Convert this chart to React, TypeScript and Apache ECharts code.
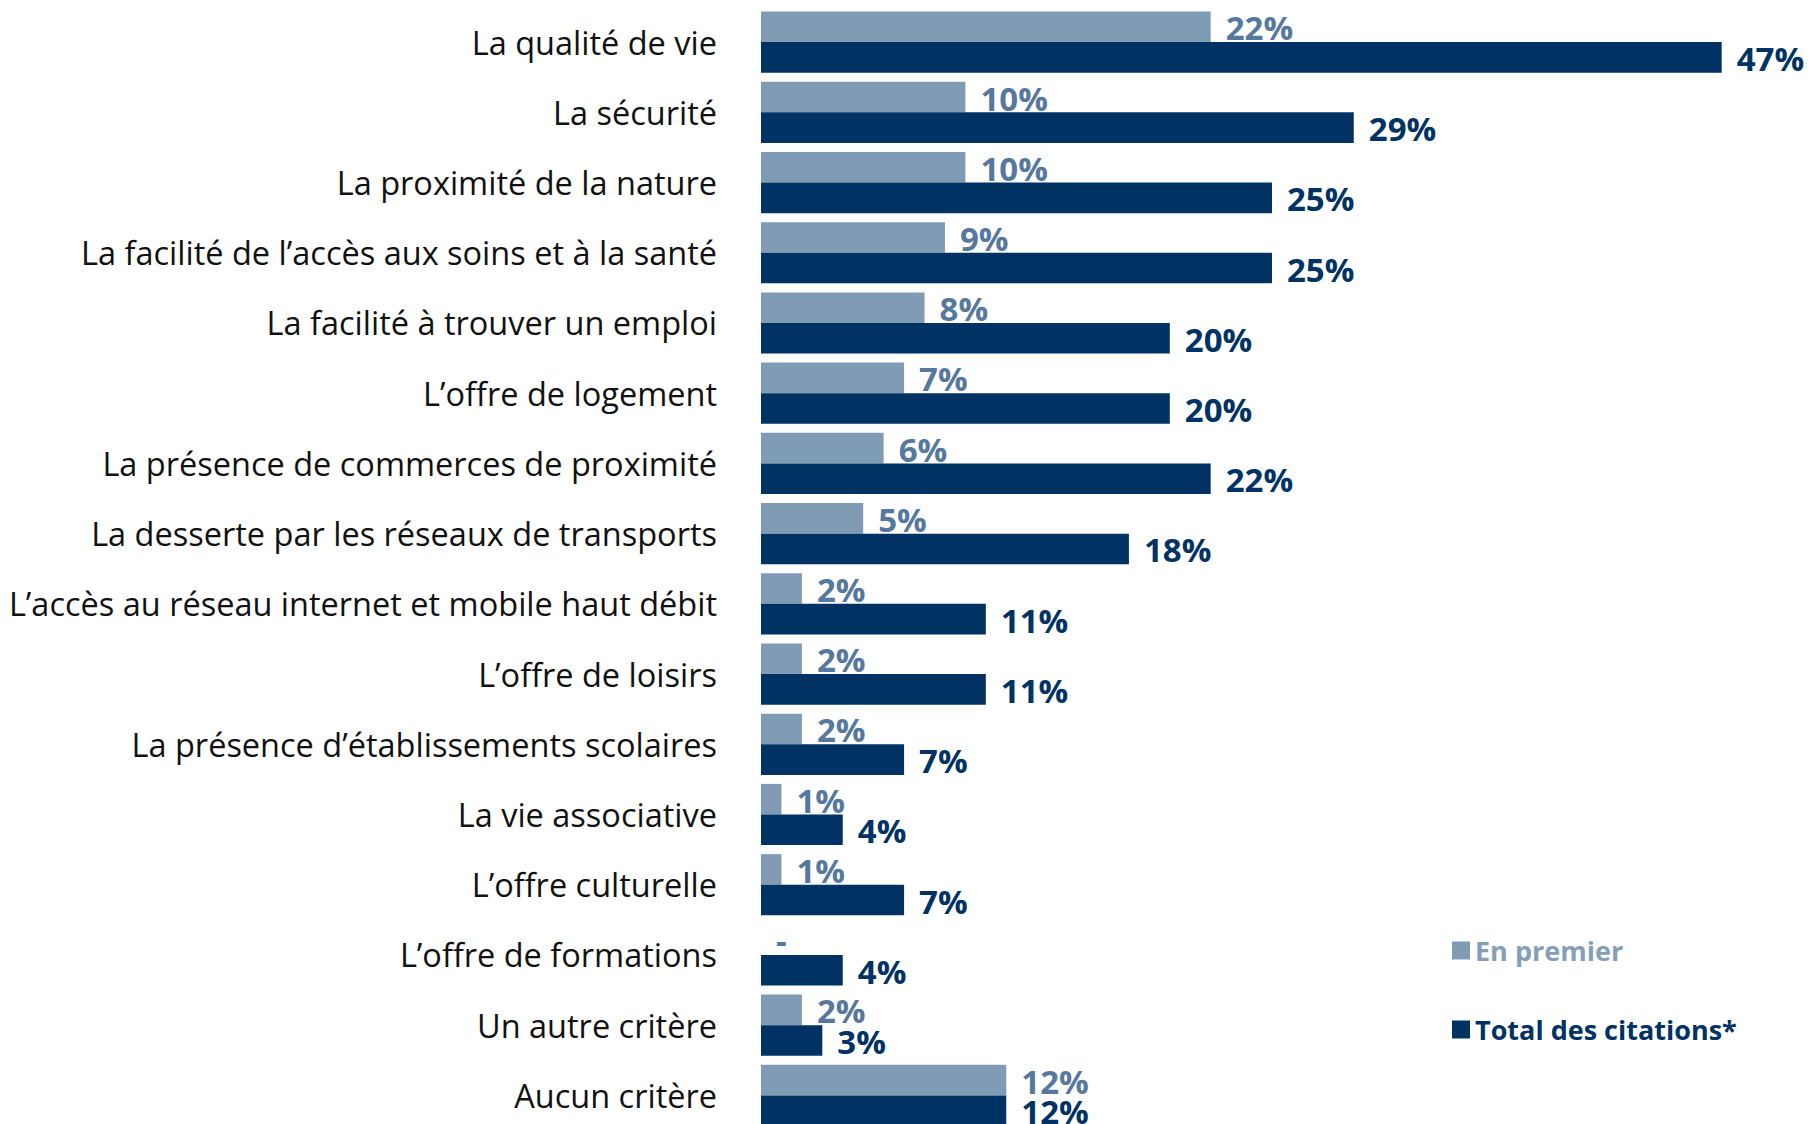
import React, { useEffect, useRef } from "react";
import * as echarts from "echarts";

const categories = [
  "La qualité de vie",
  "La sécurité",
  "La proximité de la nature",
  "La facilité de l’accès aux soins et à la santé",
  "La facilité à trouver un emploi",
  "L’offre de logement",
  "La présence de commerces de proximité",
  "La desserte par les réseaux de transports",
  "L’accès au réseau internet et mobile haut débit",
  "L’offre de loisirs",
  "La présence d’établissements scolaires",
  "La vie associative",
  "L’offre culturelle",
  "L’offre de formations",
  "Un autre critère",
  "Aucun critère",
];

const enPremier = [22, 10, 10, 9, 8, 7, 6, 5, 2, 2, 2, 1, 1, 0, 2, 12];
const totalCitations = [47, 29, 25, 25, 20, 20, 22, 18, 11, 11, 7, 4, 7, 4, 3, 12];

const seriesNames = ["En premier", "Total des citations*"];

const LIGHT = "#809bb4";
const LIGHT_TEXT = "#56789e";
const DARK = "#003263";
const FONT = "'Open Sans', 'Noto Sans', sans-serif";

export default function App() {
  const ref = useRef<HTMLDivElement>(null);

  useEffect(() => {
    if (!ref.current) return;
    const chart = echarts.init(ref.current, undefined, { renderer: "svg" });
    chart.setOption({
      animation: false,
      backgroundColor: "#ffffff",
      grid: { left: 761, right: 28, top: 7, bottom: 9.5, containLabel: false },
      xAxis: {
        type: "value",
        min: 0,
        max: 50,
        show: false,
      },
      yAxis: {
        type: "category",
        data: categories,
        inverse: true,
        axisLine: { show: false },
        axisTick: { show: false },
        splitLine: { show: false },
        axisLabel: {
          margin: 44,
          fontSize: 32.5,
          fontFamily: FONT,
          color: "#111111",
          padding: [0, 0, 5, 0],
        },
      },
      legend: [
        {
          data: [seriesNames[0]],
          left: 1447,
          top: 932,
          itemWidth: 18,
          itemHeight: 18,
          itemGap: 8,
          icon: "rect",
          textStyle: { color: "#869fb8", fontSize: 27, fontWeight: "bold", fontFamily: FONT },
        },
        {
          data: [seriesNames[1]],
          left: 1447,
          top: 1011,
          itemWidth: 18,
          itemHeight: 18,
          itemGap: 8,
          icon: "rect",
          textStyle: { color: DARK, fontSize: 27, fontWeight: "bold", fontFamily: FONT },
        },
      ],
      series: [
        {
          name: seriesNames[0],
          type: "bar",
          data: enPremier,
          barWidth: 30.6,
          barGap: "0%",
          itemStyle: { color: LIGHT },
          label: {
            show: true,
            position: "right",
            distance: 15,
            offset: [0, 1],
            formatter: (p: any) => (p.value === 0 ? "-" : p.value + "%"),
            color: LIGHT_TEXT,
            fontSize: 33,
            fontWeight: "bold",
            fontFamily: FONT,
          },
        },
        {
          name: seriesNames[1],
          type: "bar",
          data: totalCitations,
          barWidth: 30.6,
          barGap: "0%",
          itemStyle: { color: DARK },
          label: {
            show: true,
            position: "right",
            distance: 15,
            offset: [0, 1],
            formatter: (p: any) => p.value + "%",
            color: DARK,
            fontSize: 33,
            fontWeight: "bold",
            fontFamily: FONT,
          },
        },
      ],
    });
    return () => chart.dispose();
  }, []);

  return (
    <div
      style={{
        position: "fixed",
        left: 0,
        top: 0,
        width: 1811,
        height: 1124,
        overflow: "hidden",
        background: "#fff",
      }}
    >
      <div ref={ref} style={{ width: 1811, height: 1140 }} />
    </div>
  );
}
